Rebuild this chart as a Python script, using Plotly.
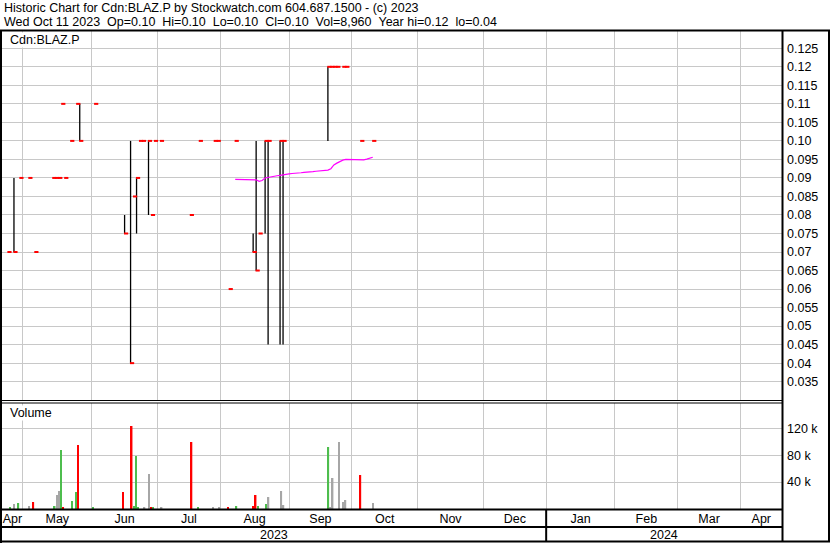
import numpy as np
import pandas as pd
import plotly.graph_objects as go

# ---------------- data ----------------
TRADE_DATES = ["2023-04-24", "2023-04-26", "2023-04-28", "2023-05-03", "2023-05-05",
               "2023-05-15", "2023-05-16", "2023-05-17", "2023-05-18", "2023-05-19",
               "2023-05-23", "2023-05-25", "2023-05-26", "2023-06-02",
               "2023-06-16", "2023-06-20", "2023-06-21", "2023-06-22", "2023-06-23", "2023-06-26",
               "2023-06-28", "2023-06-29", "2023-06-30", "2023-07-04",
               "2023-07-18", "2023-07-21", "2023-07-28", "2023-07-31",
               "2023-08-04", "2023-08-08", "2023-08-16", "2023-08-17", "2023-08-18",
               "2023-08-22", "2023-08-23", "2023-08-29", "2023-08-30",
               "2023-09-20", "2023-09-21", "2023-09-22", "2023-09-25", "2023-09-27", "2023-09-28",
               "2023-10-05", "2023-10-11"]

CLOSES = [0.07, 0.07, 0.09, 0.09, 0.07,
          0.09, 0.09, 0.09, 0.11, 0.09,
          0.10, 0.11, 0.10, 0.11,
          0.075, 0.04, 0.085, 0.09, 0.10, 0.10,
          0.10, 0.08, 0.10, 0.10,
          0.08, 0.10, 0.10, 0.10,
          0.06, 0.10, 0.07, 0.065, 0.075,
          0.10, 0.10, 0.10, 0.10,
          0.12, 0.12, 0.12, 0.12, 0.12, 0.12,
          0.10, 0.10]

HIGHS = [0.07, 0.09, 0.09, 0.09, 0.07,
         0.09, 0.09, 0.09, 0.11, 0.09,
         0.10, 0.11, 0.11, 0.11,
         0.08, 0.10, 0.085, 0.09, 0.10, 0.10,
         0.10, 0.08, 0.10, 0.10,
         0.08, 0.10, 0.10, 0.10,
         0.06, 0.10, 0.075, 0.10, 0.075,
         0.10, 0.10, 0.10, 0.10,
         0.12, 0.12, 0.12, 0.12, 0.12, 0.12,
         0.10, 0.10]

LOWS = [0.07, 0.07, 0.09, 0.09, 0.07,
        0.09, 0.09, 0.09, 0.11, 0.09,
        0.10, 0.11, 0.10, 0.11,
        0.075, 0.04, 0.085, 0.075, 0.10, 0.10,
        0.08, 0.08, 0.10, 0.10,
        0.08, 0.10, 0.10, 0.10,
        0.06, 0.10, 0.07, 0.065, 0.075,
        0.075, 0.045, 0.045, 0.045,
        0.10, 0.12, 0.12, 0.12, 0.12, 0.12,
        0.10, 0.10]

VOLUMES = [3000, 7400, 8900, 4500, 10400,
           4500, 20800, 26800, 87700, 1500,
           11900, 25300, 95200, 3000,
           25300, 123400, 4500, 78800, 3000, 3000,
           52000, 1500, 3000, 3000,
           99600, 3000, 1500, 3000,
           1500, 4500, 4500, 20800, 4500,
           7400, 17800, 26800, 5900,
           92200, 1500, 46100, 99600, 10400, 13400,
           50600, 8960]

PRIOR_CLOSE = 0.06  # close before the first visible day (estimated)

MA_START = "2023-08-08"
MA_VALUES = [0.0896, 0.0896, 0.0896, 0.0896, 0.0896, 0.0896, 0.0896, 0.0895,
             0.0891, 0.0893, 0.0900, 0.0902, 0.0904, 0.0905, 0.0906, 0.0907,
             0.0909, 0.0910, 0.0911, 0.0912, 0.0912, 0.0913, 0.0914, 0.0915,
             0.0915, 0.0916, 0.0917, 0.0918, 0.0919, 0.0920, 0.0920, 0.0921,
             0.0925, 0.0935, 0.0940, 0.0945, 0.0948, 0.0950, 0.0950, 0.0949,
             0.0948, 0.0948, 0.0948, 0.0949, 0.0951, 0.0953, 0.0956]

PRICE_TICKS = [0.125, 0.12, 0.115, 0.11, 0.105, 0.10, 0.095, 0.09, 0.085, 0.08,
               0.075, 0.07, 0.065, 0.06, 0.055, 0.05, 0.045, 0.04, 0.035]
PRICE_TICK_LABELS = ["0.125", "0.12", "0.115", "0.11", "0.105", "0.10", "0.095", "0.09",
                     "0.085", "0.08", "0.075", "0.07", "0.065", "0.06", "0.055", "0.05",
                     "0.045", "0.04", "0.035"]
VOL_TICKS = [40000, 80000, 120000]
VOL_TICK_LABELS = ["40 k", "80 k", "120 k"]

MONTH_STARTS = ["2023-04-01", "2023-05-01", "2023-06-01", "2023-07-01", "2023-08-01",
                "2023-09-01", "2023-10-01", "2023-11-01", "2023-12-01", "2024-01-01",
                "2024-02-01", "2024-03-01", "2024-04-01", "2024-05-01"]
MONTH_LABELS = ["Apr", "May", "Jun", "Jul", "Aug", "Sep", "Oct", "Nov", "Dec",
                "Jan", "Feb", "Mar", "Apr"]
YEAR_STARTS = ["2023-01-01", "2024-01-01", "2025-01-01"]
YEAR_LABELS = ["2023", "2024"]

TITLE1 = "Historic Chart for Cdn:BLAZ.P by Stockwatch.com 604.687.1500 - (c) 2023"
TITLE2 = ("Wed Oct 11 2023\u00a0\u00a0Op=0.10\u00a0\u00a0Hi=0.10\u00a0\u00a0Lo=0.10\u00a0\u00a0"
          "Cl=0.10\u00a0\u00a0Vol=8,960\u00a0\u00a0Year hi=0.12\u00a0\u00a0lo=0.04")
SYMBOL = "Cdn:BLAZ.P"

# ---------------- geometry / style ----------------
W, H = 830, 543
ML, MR, MT, MB = 2, 48, 31, 34
PW, PH = W - ML - MR, H - MT - MB
X_START = pd.Timestamp("2023-04-20 00:00")
X_END = pd.Timestamp("2024-04-18 21:00")
FONT = "Liberation Sans, Arial, sans-serif"
GRID = "#c8c8c8"
UP, DOWN, UNCH = "#4dbd4d", "#ff0000", "#a6a6a6"


def pxx(px):
    return (px - ML) / PW


def pxy(py):
    return (H - MB - py) / PH


def bd(ts):
    ts = pd.Timestamp(ts)
    whole = np.busday_count(X_START.date(), ts.date())
    frac = (ts - ts.normalize()) / pd.Timedelta(days=1) if ts.weekday() < 5 else 0.0
    return whole + frac


def from_bd(k):
    whole = int(np.floor(k))
    frac = k - whole
    d = np.busday_offset(np.datetime64(X_START.date()), whole, roll="forward")
    return pd.Timestamp(d) + pd.Timedelta(days=frac)


def visible_mid(a, b):
    a = max(pd.Timestamp(a), X_START)
    b = min(pd.Timestamp(b), X_END)
    return from_bd((bd(a) + bd(b)) / 2)


dates = pd.to_datetime(TRADE_DATES)

# hi-lo vertical bars
hx, hy = [], []
for d, h, l in zip(dates, HIGHS, LOWS):
    if h > l:
        hx += [d, d, None]
        hy += [l, h, None]

# volume colours from close-to-close change
prev = [PRIOR_CLOSE] + CLOSES[:-1]
vcol = [UP if c > p + 1e-9 else (DOWN if c < p - 1e-9 else UNCH) for c, p in zip(CLOSES, prev)]

ma_dates = pd.bdate_range(MA_START, periods=len(MA_VALUES))

fig = go.Figure()
fig.add_trace(go.Scatter(x=hx, y=hy, mode="lines", line=dict(color="black", width=1.3),
                         xaxis="x", yaxis="y", hoverinfo="skip", showlegend=False))
fig.add_trace(go.Scatter(x=ma_dates, y=MA_VALUES, mode="lines",
                         line=dict(color="#ff00ff", width=1.2),
                         xaxis="x", yaxis="y", hoverinfo="skip", showlegend=False))
fig.add_trace(go.Scatter(x=dates + pd.Timedelta(hours=12), y=CLOSES, mode="markers",
                         marker=dict(symbol="line-ew", size=3, color="red",
                                     line=dict(width=2, color="red")),
                         xaxis="x", yaxis="y", hoverinfo="skip", showlegend=False))
fig.add_trace(go.Bar(x=dates - pd.Timedelta(hours=8), y=VOLUMES,
                     width=17 * 3600 * 1000,
                     marker=dict(color=vcol, line=dict(width=0)),
                     xaxis="x3", yaxis="y2", hoverinfo="skip", showlegend=False))

month_grid = [pd.Timestamp(np.busday_offset(np.datetime64(m), 0, roll="forward"))
              for m in MONTH_STARTS[1:-1]]
month_mid = [visible_mid(a, b) for a, b in zip(MONTH_STARTS[:-1], MONTH_STARTS[1:])]
year_mid = [visible_mid(a, b) for a, b in zip(YEAR_STARTS[:-1], YEAR_STARTS[1:])]

minor_grid = dict(tickmode="array", tickvals=month_grid, showgrid=True,
                  gridcolor=GRID, gridwidth=1, ticks="")
xr = [X_START, X_END]
fig.update_layout(
    width=W, height=H, margin=dict(l=ML, r=MR, t=MT, b=MB, autoexpand=False),
    paper_bgcolor="white", plot_bgcolor="white",
    font=dict(family=FONT, size=12, color="black"),
    showlegend=False,
    xaxis=dict(type="date", range=xr, domain=[0, 1], anchor="y",
               rangebreaks=[dict(bounds=["sat", "mon"])], automargin=False,
               showticklabels=False, ticks="", showgrid=False, zeroline=False,
               showline=False, minor=minor_grid),
    xaxis2=dict(type="date", range=xr, domain=[0, 1], anchor="y2",
                rangebreaks=[dict(bounds=["sat", "mon"])], automargin=False,
                tickmode="array", tickvals=month_mid, ticktext=MONTH_LABELS,
                ticks="", showgrid=False, zeroline=False, showline=False,
                tickfont=dict(size=12.5, color="black"), minor=minor_grid),
    xaxis3=dict(type="date", range=xr, overlaying="x2", anchor="y2",
                rangebreaks=[dict(bounds=["fri", "sun"])], visible=False),
    yaxis=dict(domain=[pxy(400), 1], anchor="x", side="right", automargin=False,
               range=[0.03005, 0.12967], tickmode="array", tickvals=PRICE_TICKS,
               ticktext=PRICE_TICK_LABELS, showgrid=True, gridcolor=GRID, gridwidth=1,
               ticks="", zeroline=False, showline=False, ticklabelstandoff=4,
               tickfont=dict(size=12.5, color="black")),
    yaxis2=dict(domain=[0, pxy(403)], anchor="x2", side="right", automargin=False,
                range=[0, 157600], tickmode="array", tickvals=VOL_TICKS,
                ticktext=VOL_TICK_LABELS, showgrid=True, gridcolor=GRID, gridwidth=1,
                ticks="", zeroline=False, showline=False, ticklabelstandoff=4,
                tickfont=dict(size=12.5, color="black")),
)

annotations = [
    dict(text=TITLE1, x=pxx(3), y=pxy(8)),
    dict(text=TITLE2, x=pxx(3), y=pxy(22)),
    dict(text=SYMBOL, x=pxx(9), y=pxy(40), bgcolor="white"),
    dict(text="Volume", x=pxx(9), y=pxy(413), bgcolor="white"),
]
anns = []
for a in annotations:
    base = dict(xref="paper", yref="paper", xanchor="left", yanchor="middle",
                showarrow=False, borderpad=0, font=dict(size=12.5, color="black"))
    base.update(a)
    anns.append(base)
for ym, lab in zip(year_mid, YEAR_LABELS):
    anns.append(dict(text=lab, x=ym, xref="x2", y=pxy(534.5), yref="paper",
                     xanchor="center", yanchor="middle", showarrow=False,
                     font=dict(size=12.5, color="black")))
fig.update_layout(annotations=anns)

BLACK = dict(color="black", width=2)
THIN = dict(color="black", width=1)
shapes = [
    dict(type="line", xref="paper", yref="paper", x0=pxx(0), x1=pxx(830), y0=pxy(30.5), y1=pxy(30.5), line=BLACK),
    dict(type="line", xref="paper", yref="paper", x0=pxx(1), x1=pxx(1), y0=pxy(30), y1=pxy(543), line=BLACK),
    dict(type="line", xref="paper", yref="paper", x0=pxx(782.5), x1=pxx(782.5), y0=pxy(30), y1=pxy(542), line=BLACK),
    dict(type="line", xref="paper", yref="paper", x0=pxx(829), x1=pxx(829), y0=pxy(30), y1=pxy(542), line=BLACK),
    dict(type="line", xref="paper", yref="paper", x0=pxx(0), x1=pxx(782), y0=pxy(400.5), y1=pxy(400.5), line=THIN),
    dict(type="line", xref="paper", yref="paper", x0=pxx(0), x1=pxx(782), y0=pxy(403), y1=pxy(403), line=THIN),
    dict(type="line", xref="paper", yref="paper", x0=pxx(0), x1=pxx(782), y0=pxy(509.5), y1=pxy(509.5), line=BLACK),
    dict(type="line", xref="paper", yref="paper", x0=pxx(0), x1=pxx(782), y0=pxy(527), y1=pxy(527), line=BLACK),
    dict(type="line", xref="paper", yref="paper", x0=pxx(0), x1=pxx(830), y0=pxy(541.5), y1=pxy(541.5), line=BLACK),
    dict(type="line", xref="x2", yref="paper", x0=YEAR_STARTS[1], x1=YEAR_STARTS[1],
         y0=pxy(509), y1=pxy(542), line=BLACK),
]
fig.update_layout(shapes=shapes)

fig.write_html("out.html", config={"displayModeBar": False},
               post_script="document.body.style.margin='0';document.body.style.padding='0';")
